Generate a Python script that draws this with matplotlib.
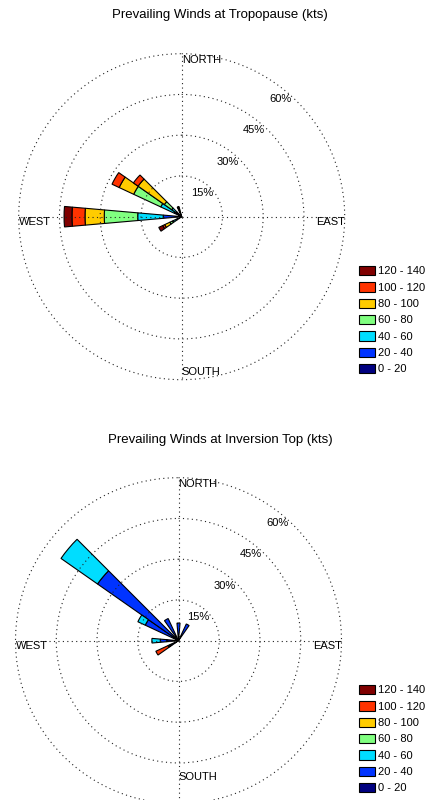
import numpy as np
import matplotlib

matplotlib.use("Agg")

import matplotlib.pyplot as plt  # noqa: E402
from matplotlib.patches import Patch  # noqa: E402

plt.rcParams["font.family"] = ["Liberation Sans", "DejaVu Sans"]

SPEED_BINS = ["0 - 20", "20 - 40", "40 - 60", "60 - 80", "80 - 100", "100 - 120", "120 - 140"]
BIN_COLORS = ["#000080", "#0033ff", "#00ddff", "#80ff80", "#ffcc00", "#ff3300", "#800000"]
RINGS = [15, 30, 45, 60]

# Tropopause: frequency (%) per speed bin, one value per direction
TROPO_DIRS = [240, 270, 300, 310, 340]
TROPO_0_20 = [1.0, 2.0, 1.0, 1.0, 0.6]
TROPO_20_40 = [1.0, 4.8, 2.0, 1.5, 0.6]
TROPO_40_60 = [1.7, 9.4, 5.5, 2.0, 0.4]
TROPO_60_80 = [1.1, 12.3, 11.0, 3.3, 0.4]
TROPO_80_100 = [2.1, 7.1, 5.9, 11.8, 0.5]
TROPO_100_120 = [0.8, 4.8, 2.9, 2.1, 0.8]
TROPO_120_140 = [1.6, 2.9, 0.0, 0.0, 0.6]

# Inversion top
INV_DIRS = [0, 30, 240, 270, 300, 310, 330]
INV_0_20 = [1.5, 1.0, 1.5, 4.3, 1.0, 1.5, 1.5]
INV_20_40 = [5.0, 5.8, 1.5, 2.4, 12.5, 34.9, 7.5]
INV_40_60 = [0.0, 0.0, 0.5, 3.1, 3.0, 16.4, 0.0]
INV_60_80 = [0.0, 0.0, 0.3, 0.0, 0.0, 0.0, 0.0]
INV_80_100 = [0.0, 0.0, 0.4, 0.0, 0.0, 0.0, 0.0]
INV_100_120 = [0.0, 0.0, 5.0, 0.0, 0.0, 0.0, 0.0]
INV_120_140 = [0.0, 0.0, 0.0, 0.0, 0.0, 0.0, 0.0]

W, H = 441, 800
RADIUS_PX = 163


def wind_rose(fig, center, dirs, bins, title, title_y, legend_top, south_r=57.1):
    cx, cy = center
    ax = fig.add_axes(
        [(cx - RADIUS_PX) / W, 1 - (cy + RADIUS_PX) / H, 2 * RADIUS_PX / W, 2 * RADIUS_PX / H],
        projection="polar",
    )
    ax.set_theta_zero_location("N")
    ax.set_theta_direction(-1)

    theta = np.deg2rad(dirs)
    bottom = np.zeros(len(dirs))
    for vals, color in zip(bins, BIN_COLORS):
        vals = np.asarray(vals, dtype=float)
        keep = vals > 0
        ax.bar(
            theta[keep], vals[keep], width=np.deg2rad(10), bottom=bottom[keep],
            color=color, edgecolor="black", linewidth=0.8, zorder=1,
        )
        bottom += vals

    ax.set_ylim(0, 60)
    ax.set_rgrids(RINGS, labels=[""] * len(RINGS))
    ax.set_thetagrids([0, 90, 180, 270], labels=[""] * 4)
    ax.set_axisbelow(False)
    ax.grid(True, color="#222222", linestyle=(0, (1, 3)), linewidth=0.8)
    for gl in ax.yaxis.get_gridlines():
        gl.set_clip_on(False)
    ax.spines["polar"].set_visible(False)
    ax.set_facecolor("none")

    for ring in RINGS:
        ax.text(np.deg2rad(40), ring - 3.5, f"{ring}%", ha="center", va="center", fontsize=8)
    ax.text(0, 57.6, "NORTH", ha="left", va="center", fontsize=8)
    ax.text(np.pi, south_r, "SOUTH", ha="left", va="center", fontsize=8)
    ax.text(np.deg2rad(270), 60, "WEST", ha="left", va="top", fontsize=8)
    ax.text(np.deg2rad(90), 60, "EAST", ha="right", va="top", fontsize=8)

    fig.text(220 / W, 1 - title_y / H, title, ha="center", va="center", fontsize=9.5)

    handles = [Patch(facecolor=c, edgecolor="black", linewidth=0.8) for c in BIN_COLORS]
    fig.legend(
        handles[::-1], SPEED_BINS[::-1],
        loc="upper left", bbox_to_anchor=(359 / W, 1 - legend_top / H),
        frameon=False, borderpad=0, borderaxespad=0, fontsize=8,
        handlelength=1.4, handleheight=0.9, handletextpad=0.35, labelspacing=0.53,
    )
    return ax


fig = plt.figure(figsize=(W / 100, H / 100), dpi=100)
fig.patch.set_facecolor("white")

wind_rose(
    fig, (181.7, 216.7), TROPO_DIRS,
    [TROPO_0_20, TROPO_20_40, TROPO_40_60, TROPO_60_80, TROPO_80_100, TROPO_100_120, TROPO_120_140],
    "Prevailing Winds at Tropopause (kts)", 15, 266,
)
wind_rose(
    fig, (178.5, 640.7), INV_DIRS,
    [INV_0_20, INV_20_40, INV_40_60, INV_60_80, INV_80_100, INV_100_120, INV_120_140],
    "Prevailing Winds at Inversion Top (kts)", 440, 685, south_r=50,
)

fig.savefig("out.png", dpi=100, facecolor=fig.get_facecolor())
